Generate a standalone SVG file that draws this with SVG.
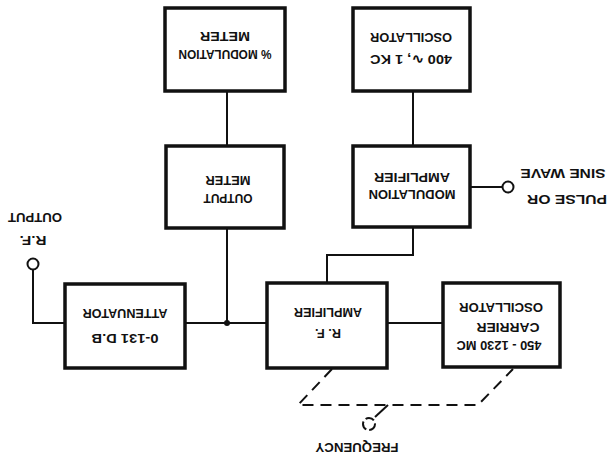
<svg xmlns="http://www.w3.org/2000/svg" width="608" height="458" viewBox="0 0 608 458">
<style>
.box{fill:#fff;stroke:#111;stroke-width:3.5}
.ln{fill:none;stroke:#111;stroke-width:2}
.dash{fill:none;stroke:#111;stroke-width:2;stroke-dasharray:11 7}
.t{font-family:"Liberation Sans",Arial,sans-serif;font-weight:bold;font-size:13px;fill:#111;text-anchor:middle;dominant-baseline:central}
.term{fill:#fff;stroke:#111;stroke-width:2}
</style>
<rect width="608" height="458" fill="#fff"/>
<g id="connectors">
<line class="ln" x1="227" y1="91" x2="227" y2="146"/>
<line class="ln" x1="413" y1="91" x2="413" y2="146"/>
<line class="ln" x1="227" y1="228" x2="227" y2="323"/>
<line class="ln" x1="185" y1="323" x2="267" y2="323"/>
<polyline class="ln" points="65,323 33,323 33,269"/>
<polyline class="ln" points="327,283 327,255 413,255 413,227"/>
<line class="ln" x1="470" y1="187" x2="503" y2="187"/>
<line class="ln" x1="387" y1="323" x2="443" y2="323"/>
<circle cx="227" cy="323" r="3" fill="#111"/>
<path class="dash" d="M332,369 L298,405 L478,405 L513,369"/>
<line class="ln" x1="375" y1="417" x2="388" y2="405"/>
<circle cx="369" cy="424" r="6" fill="none" stroke="#111" stroke-width="2" stroke-dasharray="9 3"/>
</g>
<g id="mod-meter"><rect class="box" x="165" y="8" width="120" height="83"/>
<text class="t" x="225" y="36" transform="rotate(180 225 36)" textLength="50" lengthAdjust="spacingAndGlyphs">METER</text>
<text class="t" x="225" y="54" transform="rotate(180 225 54)" textLength="93" lengthAdjust="spacingAndGlyphs">% MODULATION</text></g>
<g id="osc400"><rect class="box" x="353" y="8" width="117" height="83"/>
<text class="t" x="411" y="37" transform="rotate(180 411 37)" textLength="82" lengthAdjust="spacingAndGlyphs">OSCILLATOR</text>
<text class="t" x="411" y="59" transform="rotate(180 411 59)" textLength="82" lengthAdjust="spacingAndGlyphs">400 ∿, 1 KC</text></g>
<g id="output-meter"><rect class="box" x="166" y="146" width="118" height="82"/>
<text class="t" x="228" y="180" transform="rotate(180 228 180)" textLength="45" lengthAdjust="spacingAndGlyphs">METER</text>
<text class="t" x="228" y="198" transform="rotate(180 228 198)" textLength="49" lengthAdjust="spacingAndGlyphs">OUTPUT</text></g>
<g id="mod-amp"><rect class="box" x="353" y="146" width="117" height="81"/>
<text class="t" x="412" y="177" transform="rotate(180 412 177)" textLength="76" lengthAdjust="spacingAndGlyphs">AMPLIFIER</text>
<text class="t" x="412" y="194" transform="rotate(180 412 194)" textLength="87" lengthAdjust="spacingAndGlyphs">MODULATION</text></g>
<g id="attenuator"><rect class="box" x="65" y="284" width="120" height="84"/>
<text class="t" x="125" y="313" transform="rotate(180 125 313)" textLength="85" lengthAdjust="spacingAndGlyphs">ATTENUATOR</text>
<text class="t" x="125" y="338" transform="rotate(180 125 338)" textLength="67" lengthAdjust="spacingAndGlyphs">0-131 D.B</text></g>
<g id="rf-amp"><rect class="box" x="267" y="283" width="120" height="85"/>
<text class="t" x="328" y="312" transform="rotate(180 328 312)" textLength="68" lengthAdjust="spacingAndGlyphs">AMPLIFIER</text>
<text class="t" x="328" y="333" transform="rotate(180 328 333)" textLength="26" lengthAdjust="spacingAndGlyphs">R. F.</text></g>
<g id="carrier-osc"><rect class="box" x="443" y="283" width="117" height="84"/>
<text class="t" x="501" y="307" transform="rotate(180 501 307)" textLength="84" lengthAdjust="spacingAndGlyphs">OSCILLATOR</text>
<text class="t" x="508" y="327" transform="rotate(180 508 327)" textLength="63" lengthAdjust="spacingAndGlyphs">CARRIER</text>
<text class="t" x="499" y="345" transform="rotate(180 499 345)" textLength="85" lengthAdjust="spacingAndGlyphs">450 - 1230 MC</text></g>
<g id="rf-output"><circle class="term" cx="33" cy="264" r="5.5"/>
<text class="t" x="35" y="217" transform="rotate(180 35 217)" textLength="54" lengthAdjust="spacingAndGlyphs">OUTPUT</text>
<text class="t" x="33" y="240" transform="rotate(180 33 240)" textLength="27" lengthAdjust="spacingAndGlyphs">R.F.</text></g>
<g id="mod-input"><circle class="term" cx="508" cy="187" r="5.5"/>
<text class="t" x="563" y="173" transform="rotate(180 563 173)" textLength="85" lengthAdjust="spacingAndGlyphs">SINE WAVE</text>
<text class="t" x="567" y="199" transform="rotate(180 567 199)" textLength="80" lengthAdjust="spacingAndGlyphs">PULSE  OR</text></g>
<g id="frequency"><text class="t" x="357" y="447" transform="rotate(180 357 447)" textLength="83" lengthAdjust="spacingAndGlyphs">FREQUENCY</text></g>
</svg>
